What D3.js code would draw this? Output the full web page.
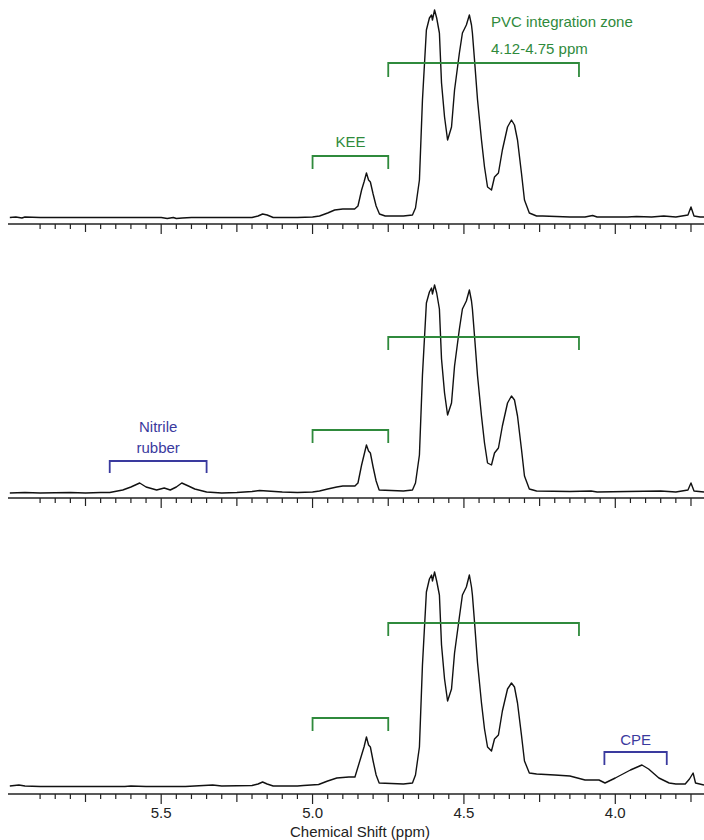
<!DOCTYPE html>
<html>
<head>
<meta charset="utf-8">
<script src="https://cdn.jsdelivr.net/npm/d3@7"></script>
<style>
  html, body { margin: 0; padding: 0; background: #fff; }
  svg { display: block; font-family: "Liberation Sans", Arial, sans-serif; }
</style>
</head>
<body>
<svg id="chart" width="704" height="840"></svg>
<script>
// ---- Data (ppm, intensity in a.u.) ----
const spectrumTop = [
  [6.00,0.5],[5.98,1],[5.96,0],[5.95,1],[5.90,0.5],[5.80,0.5],[5.70,0.5],[5.60,0.5],[5.50,0.5],
  [5.48,-0.5],[5.46,0.5],[5.45,-0.5],[5.43,0],[5.40,0.5],[5.30,0.5],[5.20,0.5],[5.18,2],[5.165,4],
  [5.15,3],[5.13,0.5],[5.05,0.5],[5.00,1],[4.977,2],[4.95,5],[4.927,8],[4.90,9],[4.861,9],[4.85,12],
  [4.838,28],[4.83,36],[4.822,45],[4.815,38],[4.809,36],[4.80,24],[4.79,12],[4.779,4],[4.76,2],
  [4.70,2],[4.67,3],[4.66,10],[4.647,38],[4.637,118],[4.624,188],[4.614,200],[4.607,203],[4.604,198],
  [4.597,208],[4.590,200],[4.581,185],[4.574,135],[4.564,101],[4.554,78],[4.541,91],[4.531,128],
  [4.515,165],[4.505,185],[4.492,193],[4.482,203],[4.475,193],[4.472,185],[4.465,158],[4.455,118],
  [4.442,78],[4.432,51],[4.422,31],[4.409,28],[4.399,41],[4.386,45],[4.373,68],[4.356,91],[4.343,98],
  [4.333,93],[4.323,78],[4.310,45],[4.300,18],[4.284,5],[4.26,2],[4.24,2],[4.15,1],[4.10,1],[4.075,2.5],
  [4.06,1],[3.96,1],[3.93,1.5],[3.88,1],[3.84,2],[3.80,1],[3.76,3],[3.75,11],[3.74,2],[3.72,1],[3.707,1]
];
const spectrumMiddle = [
  [6.00,0],[5.95,0.5],[5.90,0],[5.80,0.5],[5.75,0],[5.70,0.5],[5.67,0.5],[5.627,3],[5.60,6],[5.571,10],
  [5.55,6],[5.515,3],[5.49,5],[5.47,3],[5.45,6],[5.432,10],[5.41,7],[5.389,4],[5.35,1],[5.30,0],
  [5.25,0.5],[5.20,1.5],[5.175,2.5],[5.15,2],[5.10,1],[5.05,0.5],[5.00,1],[4.977,2],[4.95,4],[4.92,6],
  [4.90,7],[4.86,7],[4.85,10],[4.838,28],[4.83,38],[4.822,48],[4.815,42],[4.809,40],[4.80,26],[4.79,12],
  [4.78,3],[4.70,2],[4.67,3],[4.66,10],[4.647,38],[4.637,118],[4.624,190],[4.614,201],[4.607,205],
  [4.604,199],[4.597,208],[4.590,200],[4.581,184],[4.574,134],[4.564,100],[4.554,78],[4.541,90],
  [4.531,127],[4.515,164],[4.505,184],[4.492,192],[4.482,203],[4.475,192],[4.472,184],[4.465,157],
  [4.455,117],[4.442,77],[4.432,50],[4.422,30],[4.409,28],[4.399,40],[4.386,45],[4.373,67],[4.356,90],
  [4.343,97],[4.333,93],[4.323,77],[4.310,44],[4.300,17],[4.284,4],[4.26,2],[4.15,1.5],[4.08,2],
  [4.06,1],[3.96,1.5],[3.85,2],[3.80,1],[3.76,3],[3.75,10],[3.74,2],[3.707,1]
];
const spectrumBottom = [
  [6.00,1],[5.97,2],[5.95,1],[5.90,0.5],[5.80,0.5],[5.70,0.5],[5.62,0.5],[5.60,1],[5.55,0.5],[5.42,0.5],
  [5.36,1.5],[5.33,2],[5.30,1],[5.20,1.5],[5.18,3],[5.165,5],[5.15,3],[5.13,1],[5.05,1],[5.03,1.5],
  [4.98,2.5],[4.95,6],[4.92,9],[4.88,10],[4.86,10],[4.84,30],[4.83,40],[4.822,50],[4.815,42],[4.809,40],
  [4.80,26],[4.79,12],[4.78,4],[4.70,3],[4.67,4],[4.66,12],[4.647,40],[4.637,122],[4.624,195],
  [4.614,208],[4.607,212],[4.604,206],[4.597,215],[4.590,206],[4.581,192],[4.574,142],[4.564,108],
  [4.554,86],[4.541,98],[4.531,134],[4.515,170],[4.505,192],[4.492,200],[4.482,212],[4.475,200],
  [4.472,192],[4.465,165],[4.455,124],[4.442,84],[4.432,58],[4.422,40],[4.409,36],[4.399,48],[4.386,52],
  [4.373,76],[4.356,98],[4.343,104],[4.333,100],[4.323,84],[4.310,52],[4.300,26],[4.284,14],[4.26,13],
  [4.20,12],[4.15,11],[4.10,7],[4.054,7],[4.034,4],[4.00,9],[3.95,17],[3.912,22],[3.89,18],[3.856,9],
  [3.822,4],[3.80,3],[3.769,3],[3.755,8],[3.743,14],[3.735,4],[3.707,2]
];
const majorTickValues = [5.5, 5.0, 4.5, 4.0];
const majorTickLabels = ["5.5", "5.0", "4.5", "4.0"];
const axisTitle = "Chemical Shift (ppm)";

// brackets: [ppmStart, ppmEnd]
const pvcZone = [4.75, 4.12];
const keeZone = [5.00, 4.75];
const nitrileZone = [5.67, 5.35];
const cpeZone = [4.036, 3.83];

// ---- Layout ----
const svg = d3.select("#chart");
const green = "#2f8a3c";
const blue = "#3a3a9e";

const x = d3.scaleLinear().domain([6.006, 3.707]).range([8, 704]);

const panels = [
  { data: spectrumTop, base: 218, axisY: 224, labels: false },
  { data: spectrumMiddle, base: 493, axisY: 498, labels: false },
  { data: spectrumBottom, base: 787, axisY: 794, labels: true }
];

const minorTicks = d3.range(395, 594, 5).map(v => v / 100); // 3.95 .. 5.95
minorTicks.push(3.75, 3.80, 3.85, 3.90);

panels.forEach(p => {
  const y = d3.scaleLinear().domain([0, 208]).range([p.base, p.base - 208]);
  p.y = y;
  const line = d3.line().x(d => x(d[0])).y(d => y(d[1])).curve(d3.curveLinear);
  svg.append("path")
    .attr("d", line(p.data))
    .attr("fill", "none")
    .attr("stroke", "#111")
    .attr("stroke-width", 1.4)
    .attr("stroke-linejoin", "round");

  const g = svg.append("g").attr("transform", `translate(0,${p.axisY})`);
  g.append("line").attr("x1", 8).attr("x2", 704).attr("y1", 0).attr("y2", 0)
    .attr("stroke", "#222").attr("stroke-width", 1.3);
  const allTicks = Array.from(new Set(minorTicks.map(v => Math.round(v * 100))))
    .map(v => v / 100).filter(v => v <= 5.96 && v >= 3.74);
  allTicks.forEach(v => {
    const k = Math.round(v * 100);
    let len = 5;
    if (k % 50 === 0) len = 10;
    else if (k % 25 === 0) len = 8;
    g.append("line").attr("x1", x(v)).attr("x2", x(v)).attr("y1", 0).attr("y2", len)
      .attr("stroke", "#222").attr("stroke-width", 1.2);
  });
  if (p.labels) {
    majorTickValues.forEach((v, i) => {
      g.append("text").attr("x", x(v)).attr("y", 24).attr("text-anchor", "middle")
        .attr("font-size", 15).attr("fill", "#222").text(majorTickLabels[i]);
    });
    g.append("text").attr("x", 360).attr("y", 43).attr("text-anchor", "middle")
      .attr("font-size", 15).attr("fill", "#222").text(axisTitle);
  }
});

function bracket(zone, top, drop, color) {
  const x1 = x(zone[0]), x2 = x(zone[1]);
  svg.append("path")
    .attr("d", `M${x1},${top + drop}V${top}H${x2}V${top + drop}`)
    .attr("fill", "none").attr("stroke", color).attr("stroke-width", 1.8);
}
function label(txt, xx, yy, color, anchor) {
  svg.append("text").attr("x", xx).attr("y", yy).attr("text-anchor", anchor || "middle")
    .attr("font-size", 15).attr("fill", color).text(txt);
}

// Panel 1
bracket(pvcZone, 63, 14, green);
bracket(keeZone, 156, 13, green);
label("PVC integration zone", 491, 27, green, "start");
label("4.12-4.75 ppm", 491, 54, green, "start");
label("KEE", x(4.875), 147, green);

// Panel 2
bracket(pvcZone, 337, 13, green);
bracket(keeZone, 430, 13, green);
bracket(nitrileZone, 461, 12, blue);
label("Nitrile", x(5.51), 432, blue);
label("rubber", x(5.51), 453, blue);

// Panel 3
bracket(pvcZone, 623, 13, green);
bracket(keeZone, 718, 13, green);
bracket(cpeZone, 752, 13, blue);
label("CPE", x(3.933), 745, blue);
</script>
</body>
</html>
